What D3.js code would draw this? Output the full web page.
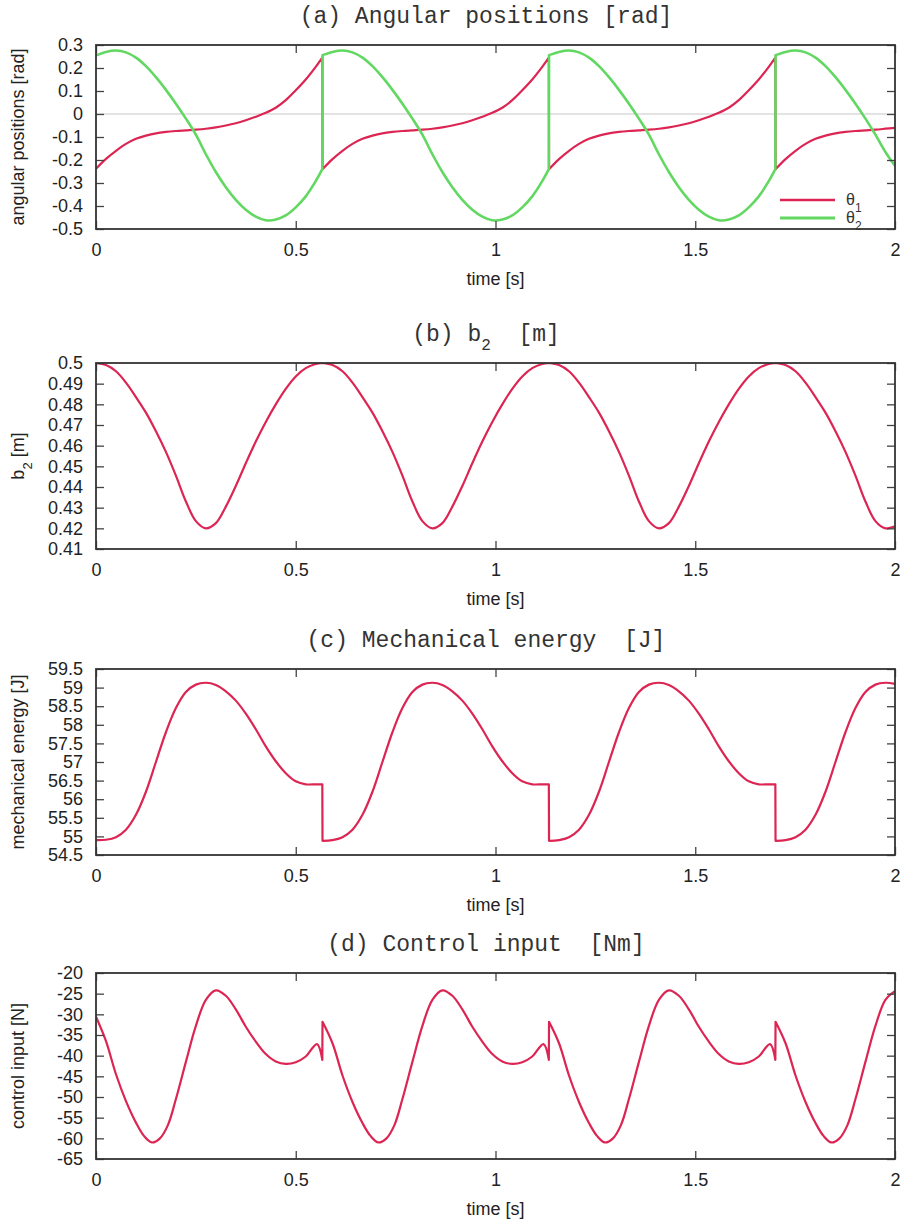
<!DOCTYPE html>
<html><head><meta charset="utf-8">
<script src="https://cdn.jsdelivr.net/npm/d3@7"></script>
<style>body{margin:0;background:#fff}svg{display:block}</style>
</head><body>
<svg id="c" width="904" height="1222"></svg>
<script>
// ---------- DATA ----------
const xTicks = [0, 0.5, 1, 1.5, 2];
const xTickLabels = ["0", "0.5", "1", "1.5", "2"];

const yTicksA = [-0.5, -0.4, -0.3, -0.2, -0.1, 0, 0.1, 0.2, 0.3];
const yLabelsA = ["-0.5", "-0.4", "-0.3", "-0.2", "-0.1", "0", "0.1", "0.2", "0.3"];
const yTicksB = [0.41, 0.42, 0.43, 0.44, 0.45, 0.46, 0.47, 0.48, 0.49, 0.5];
const yLabelsB = ["0.41", "0.42", "0.43", "0.44", "0.45", "0.46", "0.47", "0.48", "0.49", "0.5"];
const yTicksC = [54.5, 55, 55.5, 56, 56.5, 57, 57.5, 58, 58.5, 59, 59.5];
const yLabelsC = ["54.5", "55", "55.5", "56", "56.5", "57", "57.5", "58", "58.5", "59", "59.5"];
const yTicksD = [-65, -60, -55, -50, -45, -40, -35, -30, -25, -20];
const yLabelsD = ["-65", "-60", "-55", "-50", "-45", "-40", "-35", "-30", "-25", "-20"];

const titles = [
  [{t: "(a) Angular positions [rad]"}],
  [{t: "(b) b"}, {t: "2", sub: true}, {t: "  [m]"}],
  [{t: "(c) Mechanical energy  [J]"}],
  [{t: "(d) Control input  [Nm]"}]
];
const yAxisLabels = [
  [{t: "angular positions [rad]"}],
  [{t: "b"}, {t: "2", sub: true}, {t: " [m]"}],
  [{t: "mechanical energy [J]"}],
  [{t: "control input [N]"}]
];
const xAxisLabel = "time [s]";
const legendNames = [["θ", "1"], ["θ", "2"]];

// time samples for panels a, b, c
const tA = [
  0, 0.025, 0.05, 0.075, 0.1, 0.125, 0.15, 0.175, 0.2, 0.225, 0.25, 0.275, 0.3, 0.325, 0.35, 0.375, 0.4, 0.425, 0.45, 0.475, 0.5, 0.525, 0.55, 0.5665,
  0.567, 0.592, 0.617, 0.642, 0.667, 0.692, 0.717, 0.742, 0.767, 0.792, 0.817, 0.842, 0.867, 0.892, 0.917, 0.942, 0.967, 0.992, 1.017, 1.042, 1.067, 1.092, 1.117, 1.1335,
  1.134, 1.159, 1.184, 1.209, 1.234, 1.259, 1.284, 1.309, 1.334, 1.359, 1.384, 1.409, 1.434, 1.459, 1.484, 1.509, 1.534, 1.559, 1.584, 1.609, 1.634, 1.659, 1.684, 1.7005,
  1.701, 1.726, 1.751, 1.776, 1.801, 1.826, 1.851, 1.876, 1.901, 1.926, 1.951, 1.976, 2.0
];
const theta1 = [
  -0.238, -0.195, -0.160, -0.130, -0.108, -0.094, -0.084, -0.078, -0.074, -0.071, -0.068, -0.064, -0.058, -0.050, -0.040, -0.027, -0.012, 0.005, 0.027, 0.060, 0.103, 0.150, 0.205, 0.245,
  -0.240, -0.196, -0.160, -0.130, -0.108, -0.094, -0.084, -0.078, -0.074, -0.071, -0.068, -0.064, -0.058, -0.050, -0.040, -0.027, -0.012, 0.005, 0.027, 0.060, 0.103, 0.150, 0.205, 0.245,
  -0.240, -0.196, -0.160, -0.130, -0.108, -0.094, -0.084, -0.078, -0.074, -0.071, -0.068, -0.064, -0.058, -0.050, -0.040, -0.027, -0.012, 0.005, 0.027, 0.060, 0.103, 0.150, 0.205, 0.245,
  -0.240, -0.196, -0.160, -0.130, -0.108, -0.094, -0.084, -0.078, -0.074, -0.071, -0.068, -0.064, -0.060
];
const theta2 = [
  0.255, 0.270, 0.276, 0.268, 0.245, 0.208, 0.160, 0.105, 0.045, -0.020, -0.090, -0.175, -0.252, -0.318, -0.373, -0.416, -0.446, -0.462, -0.459, -0.441, -0.406, -0.358, -0.292, -0.240,
  0.256, 0.270, 0.276, 0.268, 0.245, 0.208, 0.160, 0.105, 0.045, -0.020, -0.090, -0.175, -0.252, -0.318, -0.373, -0.416, -0.446, -0.462, -0.459, -0.441, -0.406, -0.358, -0.292, -0.240,
  0.256, 0.270, 0.276, 0.268, 0.245, 0.208, 0.160, 0.105, 0.045, -0.020, -0.090, -0.175, -0.252, -0.318, -0.373, -0.416, -0.446, -0.462, -0.459, -0.441, -0.406, -0.358, -0.292, -0.240,
  0.256, 0.270, 0.276, 0.268, 0.245, 0.208, 0.160, 0.105, 0.045, -0.020, -0.090, -0.165, -0.225
];
const b2 = [
  0.5, 0.499, 0.496, 0.4905, 0.4835, 0.476, 0.467, 0.457, 0.4455, 0.433, 0.4235, 0.420, 0.4225, 0.4305, 0.4405, 0.4515, 0.462, 0.4715, 0.480, 0.4875, 0.4935, 0.4975, 0.4995, 0.5,
  0.5, 0.499, 0.496, 0.4905, 0.4835, 0.476, 0.467, 0.457, 0.4455, 0.433, 0.4235, 0.420, 0.4225, 0.4305, 0.4405, 0.4515, 0.462, 0.4715, 0.480, 0.4875, 0.4935, 0.4975, 0.4995, 0.5,
  0.5, 0.499, 0.496, 0.4905, 0.4835, 0.476, 0.467, 0.457, 0.4455, 0.433, 0.4235, 0.420, 0.4225, 0.4305, 0.4405, 0.4515, 0.462, 0.4715, 0.480, 0.4875, 0.4935, 0.4975, 0.4995, 0.5,
  0.5, 0.499, 0.496, 0.4905, 0.4835, 0.476, 0.467, 0.457, 0.4455, 0.433, 0.4235, 0.420, 0.421
];
const energy = [
  54.9, 54.91, 54.98, 55.18, 55.58, 56.2, 57.0, 57.8, 58.45, 58.88, 59.08, 59.13, 59.07, 58.9, 58.65, 58.3, 57.88, 57.42, 57.02, 56.7, 56.48, 56.4, 56.4, 56.4,
  54.88, 54.9, 54.98, 55.18, 55.58, 56.2, 57.0, 57.8, 58.45, 58.88, 59.08, 59.13, 59.07, 58.9, 58.65, 58.3, 57.88, 57.42, 57.02, 56.7, 56.48, 56.4, 56.4, 56.4,
  54.88, 54.9, 54.98, 55.18, 55.58, 56.2, 57.0, 57.8, 58.45, 58.88, 59.08, 59.13, 59.07, 58.9, 58.65, 58.3, 57.88, 57.42, 57.02, 56.7, 56.48, 56.4, 56.4, 56.4,
  54.88, 54.9, 54.98, 55.18, 55.58, 56.2, 57.0, 57.8, 58.45, 58.88, 59.08, 59.13, 59.1
];
// time samples for panel d
const tD = [
  0, 0.025, 0.05, 0.075, 0.1, 0.12, 0.14, 0.16, 0.18, 0.2, 0.225, 0.25, 0.275, 0.3, 0.325, 0.35, 0.375, 0.4, 0.425, 0.45, 0.475, 0.5, 0.525, 0.553, 0.5665,
  0.567, 0.592, 0.617, 0.642, 0.667, 0.687, 0.707, 0.727, 0.747, 0.767, 0.792, 0.817, 0.842, 0.867, 0.892, 0.917, 0.942, 0.967, 0.992, 1.017, 1.042, 1.067, 1.092, 1.12, 1.1335,
  1.134, 1.159, 1.184, 1.209, 1.234, 1.254, 1.274, 1.294, 1.314, 1.334, 1.359, 1.384, 1.409, 1.434, 1.459, 1.484, 1.509, 1.534, 1.559, 1.584, 1.609, 1.634, 1.659, 1.687, 1.7005,
  1.701, 1.726, 1.751, 1.776, 1.801, 1.821, 1.841, 1.861, 1.881, 1.901, 1.926, 1.951, 1.976, 2.0
];
const control = [
  -30.6, -36.5, -44.5, -51, -56.2, -59.4, -61, -60, -56.8, -50.5, -41.5, -32.8, -26.5, -24.2, -25.5, -28.8, -33, -36.6, -39.6, -41.4, -42, -41.6, -40.2, -37.2, -41,
  -31.8, -37, -44.8, -51.2, -56.3, -59.4, -61, -60, -56.8, -50.5, -41.5, -32.8, -26.5, -24.2, -25.5, -28.8, -33, -36.6, -39.6, -41.4, -42, -41.6, -40.2, -37.2, -41,
  -31.8, -37, -44.8, -51.2, -56.3, -59.4, -61, -60, -56.8, -50.5, -41.5, -32.8, -26.5, -24.2, -25.5, -28.8, -33, -36.6, -39.6, -41.4, -42, -41.6, -40.2, -37.2, -41,
  -31.8, -37, -44.8, -51.2, -56.3, -59.4, -61, -60, -56.8, -50.5, -41.5, -32.8, -26.5, -24.4
];

// ---------- DRAWING ----------
const RED = "#dc2553", GREEN = "#62d862";
const SANS = "'Liberation Sans', Arial, Helvetica, sans-serif";
const MONO = "'Liberation Mono', 'Courier New', monospace";
const L = 96, R = 895;
const svg = d3.select("#c");
const defs = svg.append("defs");
const x = d3.scaleLinear().domain([0, 2]).range([L, R]);

const zip = (ts, vs) => ts.map((t, i) => [t, vs[i]]);

// split a series into smooth segments at (near-)duplicate times, joined by straight vertical steps
function segments(pts) {
  const segs = [[pts[0]]];
  for (let i = 1; i < pts.length; i++) {
    if (pts[i][0] - pts[i - 1][0] < 0.001) segs.push([]);
    segs[segs.length - 1].push(pts[i]);
  }
  return segs;
}

const panels = [
  {top: 45, bottom: 229, domain: [-0.5, 0.3], ticks: yTicksA, labels: yLabelsA, zero: true,
   series: [{d: zip(tA, theta1), c: RED, w: 2.2}, {d: zip(tA, theta2), c: GREEN, w: 2.6}], legend: true},
  {top: 363, bottom: 549, domain: [0.41, 0.5], ticks: yTicksB, labels: yLabelsB,
   series: [{d: zip(tA, b2), c: RED, w: 2.2}]},
  {top: 669, bottom: 855, domain: [54.5, 59.5], ticks: yTicksC, labels: yLabelsC,
   series: [{d: zip(tA, energy), c: RED, w: 2.2}]},
  {top: 973, bottom: 1159, domain: [-65, -20], ticks: yTicksD, labels: yLabelsD,
   series: [{d: zip(tD, control), c: RED, w: 2.2}]}
];

function richText(sel, parts, subSize) {
  parts.forEach(p => {
    const ts = sel.append("tspan").text(p.t);
    if (p.sub) ts.attr("baseline-shift", "sub").attr("font-size", subSize);
  });
}

function styleAxis(g, showText) {
  g.select(".domain").remove();
  g.selectAll(".tick line").attr("stroke", "#444").attr("stroke-width", 1.3);
  g.selectAll(".tick text").attr("fill", "#222").style("font-family", SANS).style("font-size", "18px");
  if (!showText) g.selectAll(".tick text").remove();
}

panels.forEach((p, i) => {
  const y = d3.scaleLinear().domain(p.domain).range([p.bottom, p.top]);
  const g = svg.append("g");
  defs.append("clipPath").attr("id", "clip" + i)
    .append("rect").attr("x", L).attr("y", p.top).attr("width", R - L).attr("height", p.bottom - p.top);

  if (p.zero) {
    g.append("line").attr("x1", L).attr("x2", R).attr("y1", y(0)).attr("y2", y(0))
      .attr("stroke", "#c8c8c8").attr("stroke-width", 1.2);
  }

  const line = d3.line().x(d => x(d[0])).y(d => y(d[1])).curve(d3.curveCatmullRom.alpha(0.5));
  p.series.forEach(s => {
    const path = segments(s.d).map((seg, k) => {
      const str = line(seg);
      return k === 0 ? str : "L" + str.slice(1);
    }).join("");
    g.append("path").attr("d", path).attr("fill", "none")
      .attr("stroke", s.c).attr("stroke-width", s.w).attr("stroke-linejoin", "round")
      .attr("clip-path", `url(#clip${i})`);
  });

  // axes
  const fmtY = (d, k) => p.labels[k];
  const fmtX = (d, k) => xTickLabels[k];
  g.append("g").attr("transform", `translate(${L},0)`)
    .call(d3.axisLeft(y).tickValues(p.ticks).tickFormat(fmtY).tickSizeInner(-8).tickSizeOuter(0).tickPadding(13))
    .call(a => styleAxis(a, true));
  g.append("g").attr("transform", `translate(${R},0)`)
    .call(d3.axisRight(y).tickValues(p.ticks).tickFormat(() => "").tickSizeInner(-8).tickSizeOuter(0))
    .call(a => styleAxis(a, false));
  g.append("g").attr("transform", `translate(0,${p.bottom})`)
    .call(d3.axisBottom(x).tickValues(xTicks).tickFormat(fmtX).tickSizeInner(-8).tickSizeOuter(0).tickPadding(14))
    .call(a => styleAxis(a, true));
  g.append("g").attr("transform", `translate(0,${p.top})`)
    .call(d3.axisTop(x).tickValues(xTicks).tickFormat(() => "").tickSizeInner(-8).tickSizeOuter(0))
    .call(a => styleAxis(a, false));

  g.append("rect").attr("x", L).attr("y", p.top).attr("width", R - L).attr("height", p.bottom - p.top)
    .attr("fill", "none").attr("stroke", "#333").attr("stroke-width", 1.8);

  // title
  const tt = g.append("text").attr("x", 486).attr("y", p.top - 22)
    .attr("text-anchor", "middle").style("white-space", "pre")
    .style("font-family", MONO).style("font-size", "23px").attr("fill", "#333");
  richText(tt, titles[i], "16px");

  // y label
  const yl = g.append("text")
    .attr("transform", `translate(24,${(p.top + p.bottom) / 2}) rotate(-90)`)
    .attr("text-anchor", "middle").style("white-space", "pre")
    .style("font-family", SANS).style("font-size", "18px").attr("fill", "#222");
  richText(yl, yAxisLabels[i], "13px");

  // x label
  g.append("text").attr("x", (L + R) / 2).attr("y", p.bottom + 56)
    .attr("text-anchor", "middle").style("font-family", SANS).style("font-size", "18px")
    .attr("fill", "#222").text(xAxisLabel);

  if (p.legend) {
    const ly = [200, 218];
    p.series.forEach((s, k) => {
      g.append("line").attr("x1", 780).attr("x2", 835).attr("y1", ly[k]).attr("y2", ly[k])
        .attr("stroke", s.c).attr("stroke-width", s.w + 0.4);
      const lt = g.append("text").attr("x", 846).attr("y", ly[k] + 5)
        .style("font-family", SANS).style("font-size", "16px").attr("fill", "#333");
      lt.append("tspan").text(legendNames[k][0]);
      lt.append("tspan").attr("baseline-shift", "sub").attr("font-size", "12px").text(legendNames[k][1]);
    });
  }
});
</script>
</body></html>
